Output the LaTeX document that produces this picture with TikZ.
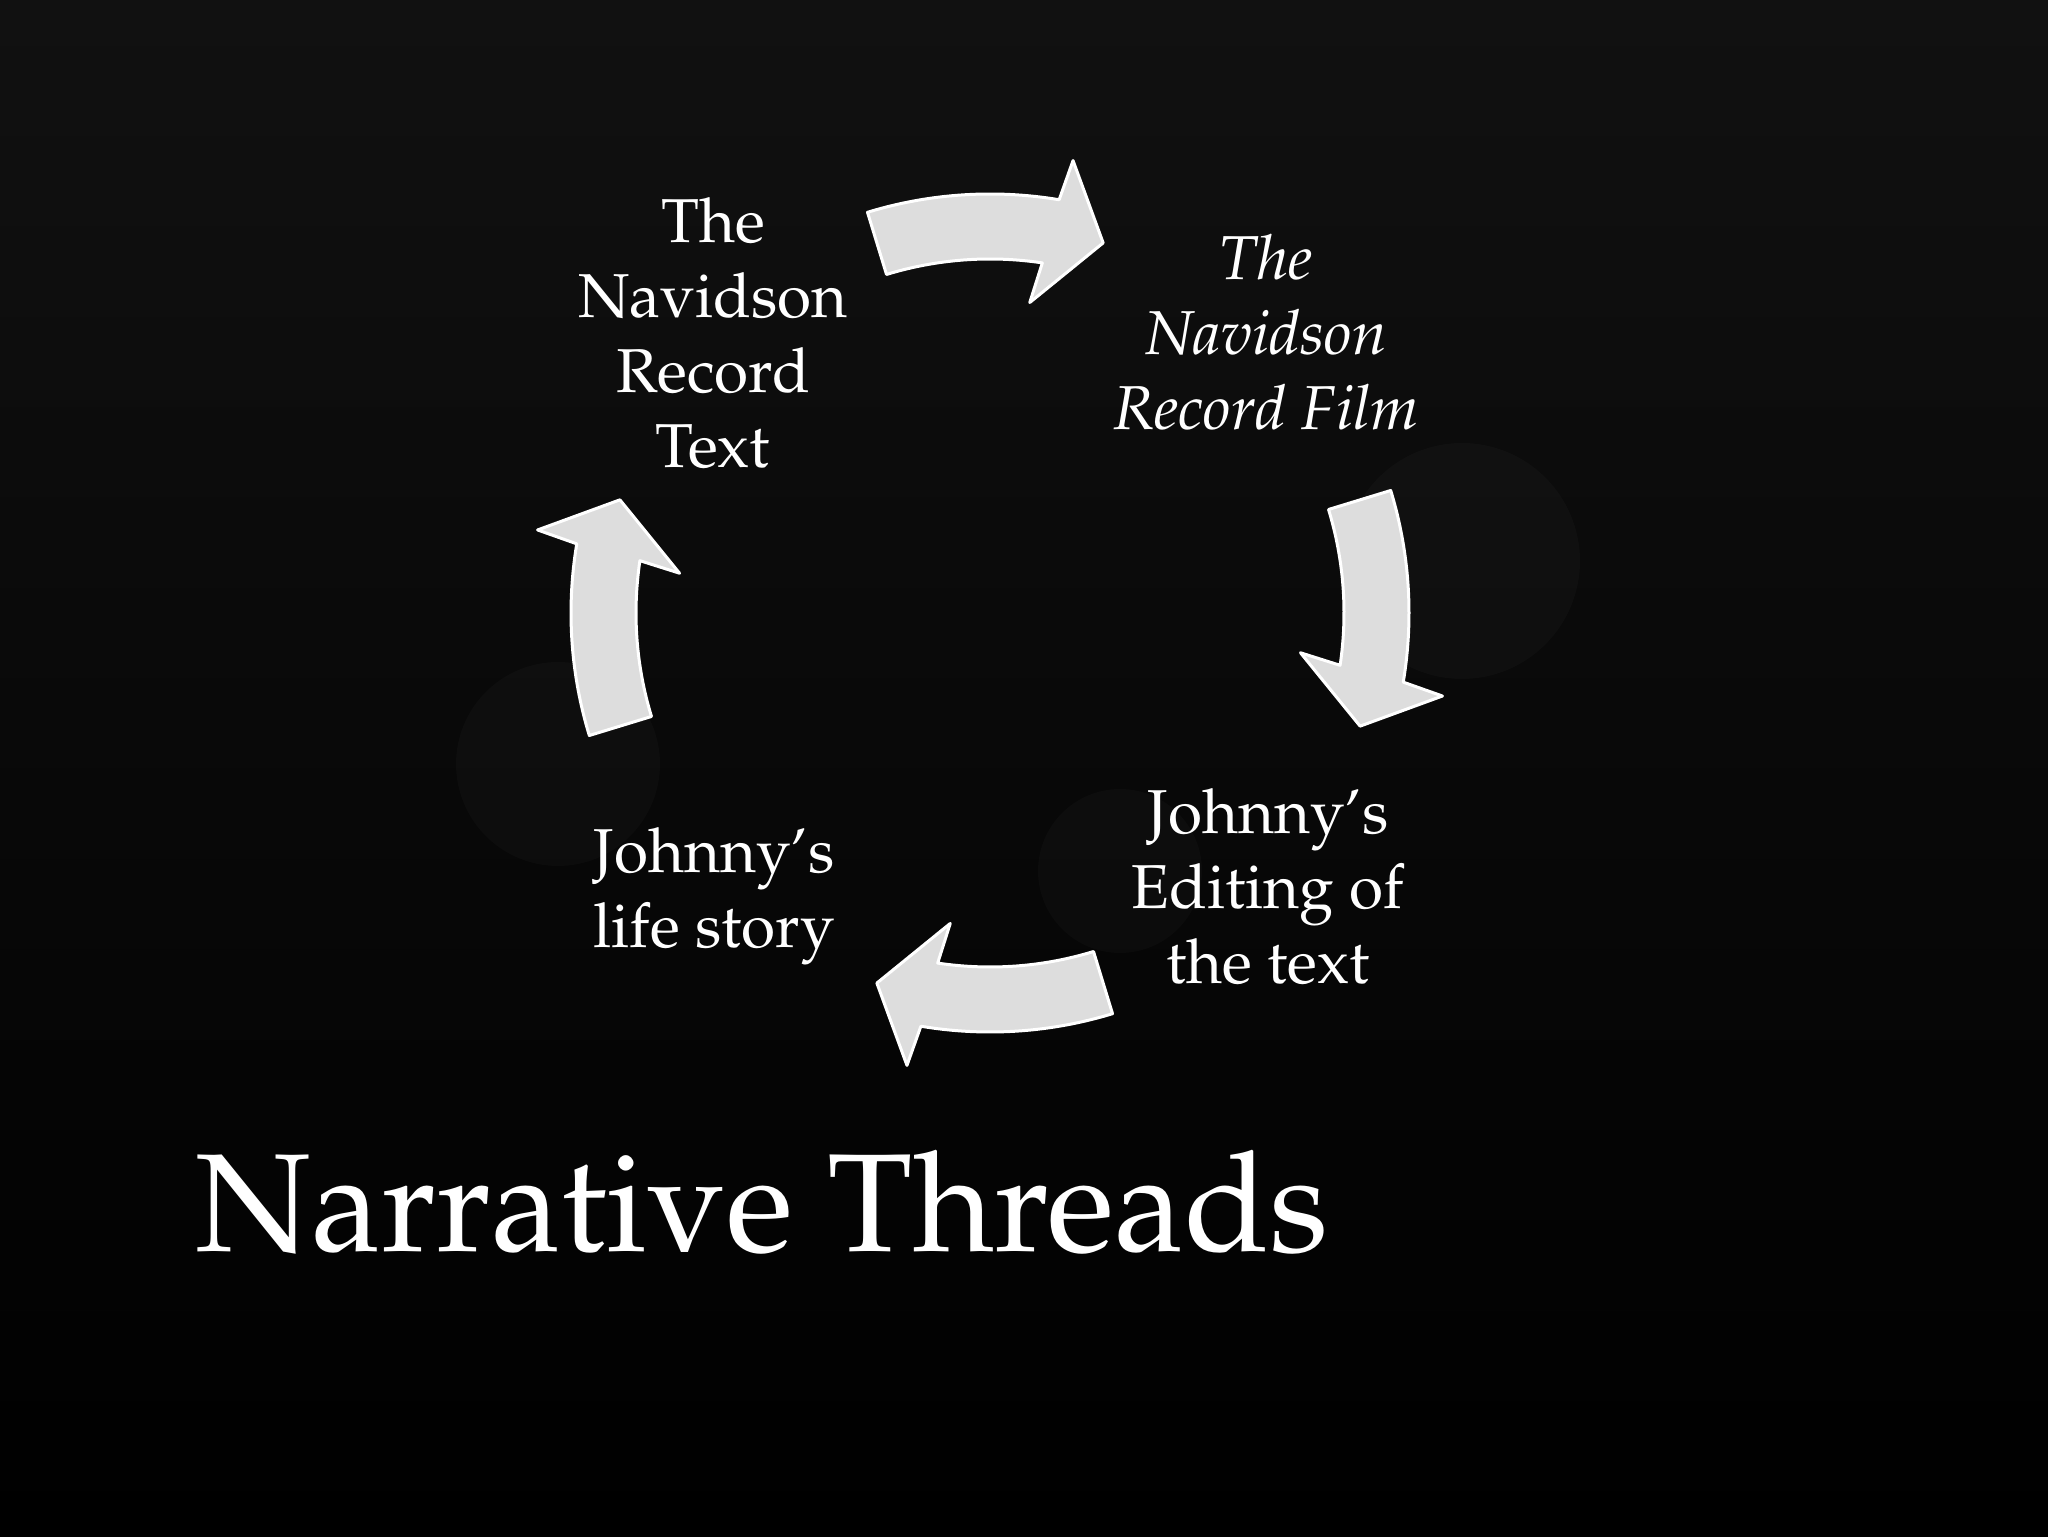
\documentclass[tikz,border=0pt]{standalone}
\usepackage[T1]{fontenc}
\usepackage{mathpazo}
\usepackage{color}
\definecolor{arrowgrey}{RGB}{221,221,221}
\definecolor{bgtop}{RGB}{17,17,17}
\usepackage{tikz}
\usetikzlibrary{calc,positioning}
\newcommand{\threadfont}{\fontsize{31}{37.5}\selectfont}
\tikzstyle{blockarrow}=[draw=white,fill=arrowgrey,line width=1.5pt,line join=round]
\tikzstyle{thread}=[text=white,align=center,inner sep=0pt,font=\threadfont]
\tikzstyle{bokeh}=[fill=white,fill opacity=0.025]
% curved block arrow on the ring round (hub), centred at angle #1, running clockwise
\newcommand{\cyclearrow}[1]{%
  \draw[blockarrow] ($(hub)+(#1+17:419)$) arc[start angle=#1+17,end angle=#1-9.5,radius=419]
    -- ($(hub)+(#1-10.4:460)$) -- ($(hub)+(#1-17:387)$) -- ($(hub)+(#1-7.3:313)$)
    -- ($(hub)+(#1-8.5:354)$) arc[start angle=#1-8.5,end angle=#1+17,radius=354] -- cycle;}

\begin{document}
\begin{tikzpicture}[x=0.5pt,y=0.5pt]
\shade[top color=bgtop,bottom color=black] (0,0) rectangle (2048,1536);
\useasboundingbox (0,0) rectangle (2048,1536);
\coordinate (hub) at (990,923);

% faint glow spots
\fill[bokeh] (1462,975) circle[radius=118];
\fill[bokeh] (558,772) circle[radius=102];
\fill[bokeh] (1120,665) circle[radius=82];

\cyclearrow{90}
\cyclearrow{0}
\cyclearrow{-90}
\cyclearrow{180}

\node[thread] (text) at (713,1203) {The\\Navidson\\Record\\Text};
\node[thread,font=\threadfont\itshape] (film) at (1266,1204) {The\\Navidson\\Record Film};
\node[thread] (editing) at (1268,649) {Johnny's\\Editing of\\the text};
\node[thread] (life) at (714,640) {Johnny's\\life story};

\node[text=white,anchor=base west,inner sep=0pt,font=\fontsize{69.8}{80}\selectfont] (title) at (195,285) {Narrative Threads};
\end{tikzpicture}
\end{document}
